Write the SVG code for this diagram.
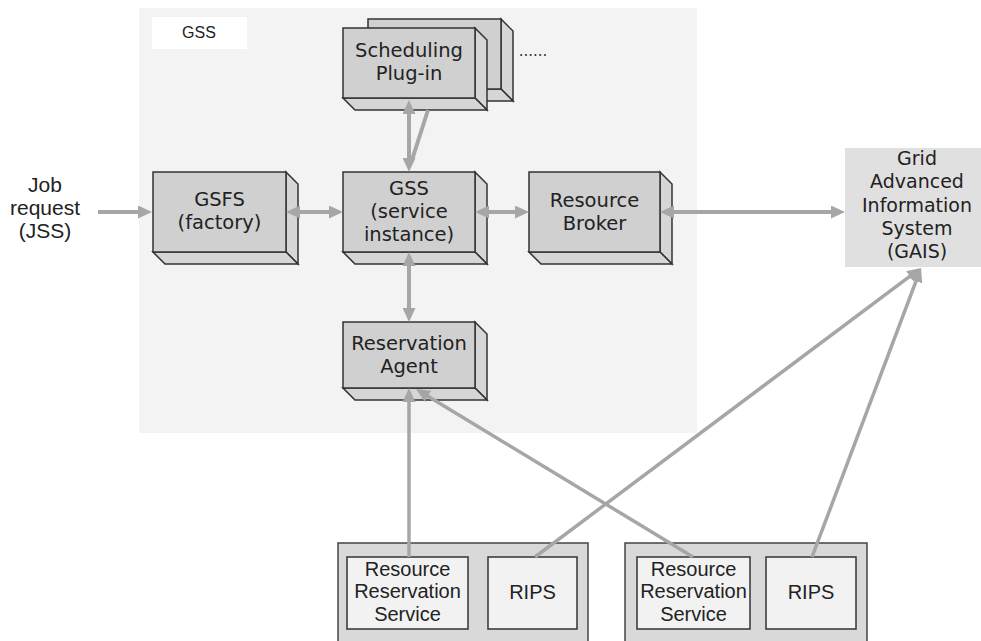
<svg xmlns="http://www.w3.org/2000/svg" width="981" height="641" viewBox="0 0 981 641">
<style>
.face{fill:#d0d0d0;stroke:#333;stroke-width:1.5;stroke-linejoin:miter}
.side{fill:#d6d6d6;stroke:#333;stroke-width:1.5}
.t{font-family:"DejaVu Sans",Verdana,sans-serif;font-size:19.5px;fill:#222;text-anchor:middle}
.a{font-family:"Liberation Sans",Arial,sans-serif;font-size:20px;fill:#222;text-anchor:middle}
.c{fill:none;stroke:#a6a6a6;stroke-width:4}
.thin{stroke-width:3.5}
</style>
<defs>
<marker id="ah" viewBox="0 0 14 13" refX="2" refY="6.5" markerWidth="14" markerHeight="13" markerUnits="userSpaceOnUse" orient="auto-start-reverse">
<path d="M0,0 L14,6.5 L0,13 z" fill="#a6a6a6"/>
</marker>
</defs>
<rect x="139" y="8" width="558" height="425" fill="#f3f3f3"/>
<g id="gss-label">
<rect x="152" y="17" width="95" height="32" fill="#ffffff"/>
<text x="199" y="38" style="font-family:'Liberation Sans',Arial,sans-serif;font-size:16px;fill:#222;text-anchor:middle">GSS</text>
</g>
<g id="scheduling-plugin-back">
<polygon class="side" points="501,19 513,31 513,101 501,89"/>
<polygon class="side" points="368,89 501,89 513,101 380,101"/>
<rect class="face" x="368" y="19" width="133" height="70"/>
</g>
<g id="scheduling-plugin">
<polygon class="side" points="475,28 487,40 487,110 475,98"/>
<polygon class="side" points="343,98 475,98 487,110 355,110"/>
<rect class="face" x="343" y="28" width="132" height="70"/>
<text class="t" x="409" y="57">Scheduling</text>
<text class="t" x="409" y="80">Plug-in</text>
</g>
<g id="dots"><text x="533" y="56" style="font-family:'DejaVu Sans',sans-serif;font-size:15px;fill:#333;text-anchor:middle">......</text></g>
<g id="gsfs">
<polygon class="side" points="286,172 298,184 298,264 286,252"/>
<polygon class="side" points="153,252 286,252 298,264 165,264"/>
<rect class="face" x="153" y="172" width="133" height="80"/>
<text class="t" x="219.5" y="206">GSFS</text>
<text class="t" x="219.5" y="229">(factory)</text>
</g>
<g id="gss">
<polygon class="side" points="475,172 487,184 487,264 475,252"/>
<polygon class="side" points="343,252 475,252 487,264 355,264"/>
<rect class="face" x="343" y="172" width="132" height="80"/>
<text class="t" x="409" y="195">GSS</text>
<text class="t" x="409" y="218">(service</text>
<text class="t" x="409" y="241">instance)</text>
</g>
<g id="resource-broker">
<polygon class="side" points="660,172 672,184 672,264 660,252"/>
<polygon class="side" points="529,252 660,252 672,264 541,264"/>
<rect class="face" x="529" y="172" width="131" height="80"/>
<text class="t" x="594.5" y="207">Resource</text>
<text class="t" x="594.5" y="230">Broker</text>
</g>
<g id="reservation-agent">
<polygon class="side" points="475,322 487,334 487,400 475,388"/>
<polygon class="side" points="343,388 475,388 487,400 355,400"/>
<rect class="face" x="343" y="322" width="132" height="66"/>
<text class="t" x="409" y="350">Reservation</text>
<text class="t" x="409" y="373">Agent</text>
</g>
<g id="gais">
<rect x="845" y="148" width="136" height="119" fill="#e0e0e0"/>
<text class="t" x="917" y="165" style="font-size:19px">Grid</text>
<text class="t" x="917" y="188" style="font-size:19px">Advanced</text>
<text class="t" x="917" y="212" style="font-size:19px">Information</text>
<text class="t" x="917" y="235" style="font-size:19px">System</text>
<text class="t" x="917" y="258" style="font-size:19px">(GAIS)</text>
</g>
<g id="job-request">
<text class="a" x="45" y="192" style="font-size:21px">Job</text>
<text class="a" x="45" y="215" style="font-size:21px">request</text>
<text class="a" x="45" y="238" style="font-size:21px">(JSS)</text>
</g>
<g id="site1">
<rect x="338" y="543" width="250" height="110" fill="#d9d9d9" stroke="#444" stroke-width="1.5"/>
<g id="rrs1">
<rect x="347" y="557" width="121" height="72" fill="#f2f2f2" stroke="#333" stroke-width="1.5"/>
<text class="a" x="407.5" y="576">Resource</text>
<text class="a" x="407.5" y="598">Reservation</text>
<text class="a" x="407.5" y="621">Service</text>
</g>
<g id="rips1">
<rect x="488" y="557" width="89" height="72" fill="#f2f2f2" stroke="#333" stroke-width="1.5"/>
<text class="a" x="532.5" y="599">RIPS</text>
</g>
</g>
<g id="site2">
<rect x="625" y="543" width="242" height="110" fill="#d9d9d9" stroke="#444" stroke-width="1.5"/>
<g id="rrs2">
<rect x="637" y="557" width="113" height="72" fill="#f2f2f2" stroke="#333" stroke-width="1.5"/>
<text class="a" x="693.5" y="576">Resource</text>
<text class="a" x="693.5" y="598">Reservation</text>
<text class="a" x="693.5" y="621">Service</text>
</g>
<g id="rips2">
<rect x="766" y="557" width="90" height="72" fill="#f2f2f2" stroke="#333" stroke-width="1.5"/>
<text class="a" x="811" y="599">RIPS</text>
</g>
</g>
<g id="connectors">
<line class="c" x1="98" y1="212" x2="140" y2="212" marker-end="url(#ah)"/>
<line class="c" x1="298" y1="212" x2="331" y2="212" marker-start="url(#ah)" marker-end="url(#ah)"/>
<line class="c" x1="487" y1="212" x2="517" y2="212" marker-start="url(#ah)" marker-end="url(#ah)"/>
<line class="c" x1="672" y1="212" x2="833" y2="212" marker-start="url(#ah)" marker-end="url(#ah)"/>
<line class="c" x1="409" y1="112" x2="409" y2="160" marker-start="url(#ah)" marker-end="url(#ah)"/>
<line class="c" x1="428" y1="110" x2="411" y2="163"/>
<line class="c" x1="409" y1="264" x2="409" y2="310" marker-start="url(#ah)" marker-end="url(#ah)"/>
<line class="c thin" x1="409" y1="557" x2="409" y2="400" marker-end="url(#ah)"/>
<line class="c thin" x1="693" y1="557" x2="426.3" y2="395.2" marker-end="url(#ah)"/>
<line class="c thin" x1="535" y1="557" x2="911.4" y2="275.2" marker-end="url(#ah)"/>
<line class="c thin" x1="812" y1="557" x2="916.8" y2="279.2" marker-end="url(#ah)"/>
</g>
</svg>
